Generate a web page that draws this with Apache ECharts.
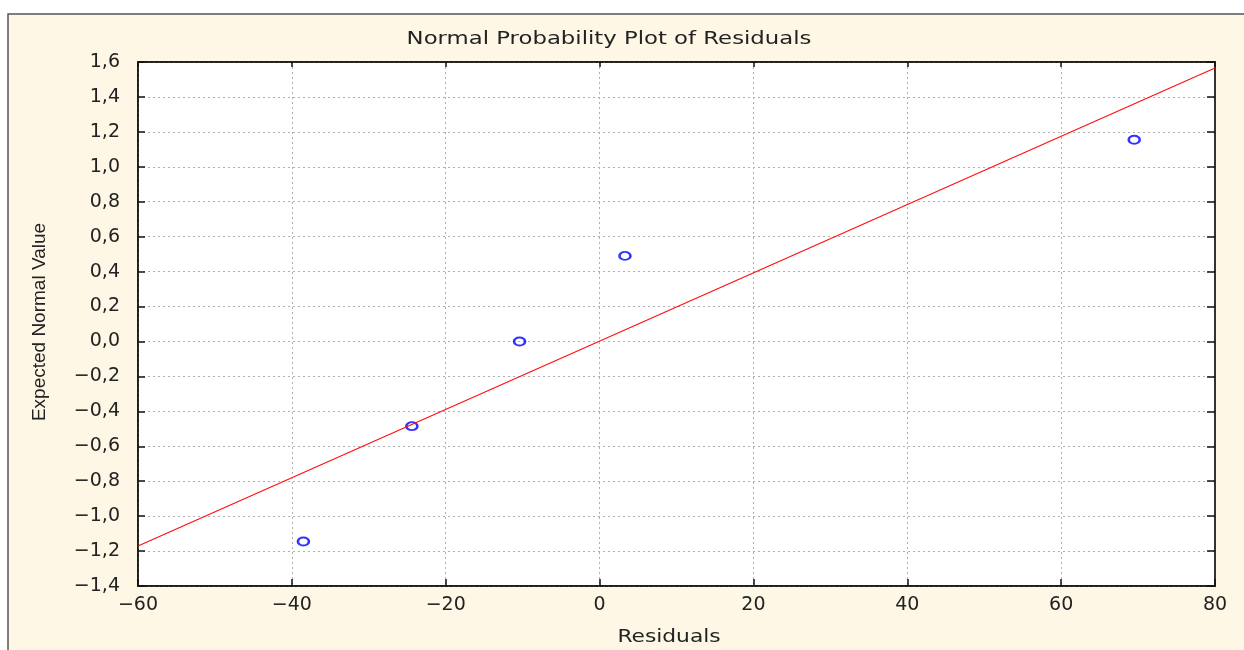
<!DOCTYPE html>
<html>
<head>
<meta charset="utf-8">
<script src="https://cdn.jsdelivr.net/npm/echarts@6/dist/echarts.min.js"></script>
<style>
  html, body { margin: 0; padding: 0; background: #fff; }
  #chart { width: 1244px; height: 650px; }
</style>
</head>
<body>
<div id="chart"></div>
<script>
// residuals vs expected normal values
const residuals = [-38.5, -24.4, -10.4, 3.3, 69.5]
const expected = [-1.145, -0.485, 0.0, 0.49, 1.155]
// fitted reference line
const fitX = [-60, 80]
const fitY = [-1.171, 1.566]

const titleText = 'Normal Probability Plot of Residuals'
const xName = 'Residuals'
const yName = 'Expected Normal Value'

const fmtNum = (v, d) => {
  const s = Math.abs(v).toFixed(d).replace('.', ',')
  return (v < -1e-9 ? '\u2212' : '') + s
}

const points = residuals.map((x, i) => [x, expected[i]])
const fitLine = fitX.map((x, i) => [x, fitY[i]])

const chart = echarts.init(document.getElementById('chart'))

const gridLine = {
  show: true,
  lineStyle: { color: '#b0b0b0', width: 1, type: [2, 3] }
}
const labelFont = { fontFamily: 'DejaVu Sans', fontSize: 19, color: '#222' }

chart.setOption({
  backgroundColor: '#fff',
  animation: false,
  graphic: [
    {
      type: 'rect',
      z: -10,
      shape: { x: 8, y: 14, width: 1260, height: 660 },
      style: { fill: '#fef7e6', stroke: '#555', lineWidth: 1.5 }
    },
    {
      type: 'text',
      x: 609, y: 40,
      scaleX: 1.34,
      style: {
        text: titleText,
        fontFamily: 'DejaVu Sans', fontSize: 17, fill: '#222',
        align: 'center', verticalAlign: 'middle'
      }
    },
    {
      type: 'text',
      x: 669, y: 638,
      scaleX: 1.28,
      style: {
        text: xName,
        fontFamily: 'DejaVu Sans', fontSize: 17, fill: '#222',
        align: 'center', verticalAlign: 'middle'
      }
    },
    {
      type: 'text',
      x: 40, y: 322,
      rotation: Math.PI / 2,
      style: {
        text: yName,
        fontFamily: 'Liberation Sans', fontSize: 19, fill: '#222',
        align: 'center', verticalAlign: 'middle'
      }
    }
  ],
  grid: {
    left: 138, top: 62, right: 29, bottom: 64,
    show: true,
    backgroundColor: '#fff',
    borderColor: '#111',
    borderWidth: 1.5
  },
  xAxis: [
    {
      type: 'value', min: -60, max: 80, interval: 20,
      position: 'bottom',
      axisLine: { show: true, onZero: false, lineStyle: { color: '#111', width: 1.5 } },
      axisTick: { show: true, inside: true, length: 7, lineStyle: { color: '#111', width: 1.5 } },
      axisLabel: Object.assign({ margin: 10, formatter: v => fmtNum(v, 0) }, labelFont),
      splitLine: gridLine
    },
    {
      type: 'value', min: -60, max: 80, interval: 20,
      position: 'top',
      axisLine: { show: true, onZero: false, lineStyle: { color: '#111', width: 1.5 } },
      axisTick: { show: true, inside: true, length: 5, lineStyle: { color: '#111', width: 1.5 } },
      axisLabel: { show: false },
      splitLine: { show: false }
    }
  ],
  yAxis: [
    {
      type: 'value', min: -1.4, max: 1.6, interval: 0.2,
      position: 'left',
      axisLine: { show: true, onZero: false, lineStyle: { color: '#111', width: 1.5 } },
      axisTick: { show: true, inside: true, length: 7, lineStyle: { color: '#111', width: 1.5 } },
      axisLabel: Object.assign({ margin: 18, formatter: v => fmtNum(v, 1) }, labelFont),
      splitLine: gridLine
    },
    {
      type: 'value', min: -1.4, max: 1.6, interval: 0.2,
      position: 'right',
      axisLine: { show: true, onZero: false, lineStyle: { color: '#333', width: 2 } },
      axisTick: { show: true, inside: true, length: 8, lineStyle: { color: '#111', width: 1.5 } },
      axisLabel: { show: false },
      splitLine: { show: false }
    }
  ],
  series: [
    {
      type: 'line',
      data: fitLine,
      xAxisIndex: 0, yAxisIndex: 0,
      showSymbol: false,
      lineStyle: { color: '#ff1010', width: 1.2 },
      silent: true
    },
    {
      type: 'scatter',
      data: points,
      xAxisIndex: 0, yAxisIndex: 0,
      symbol: 'circle',
      symbolSize: [11, 8],
      itemStyle: { color: 'rgba(0,0,0,0)', borderColor: '#0000ff', borderWidth: 2.2 }
    }
  ]
})
</script>
</body>
</html>
